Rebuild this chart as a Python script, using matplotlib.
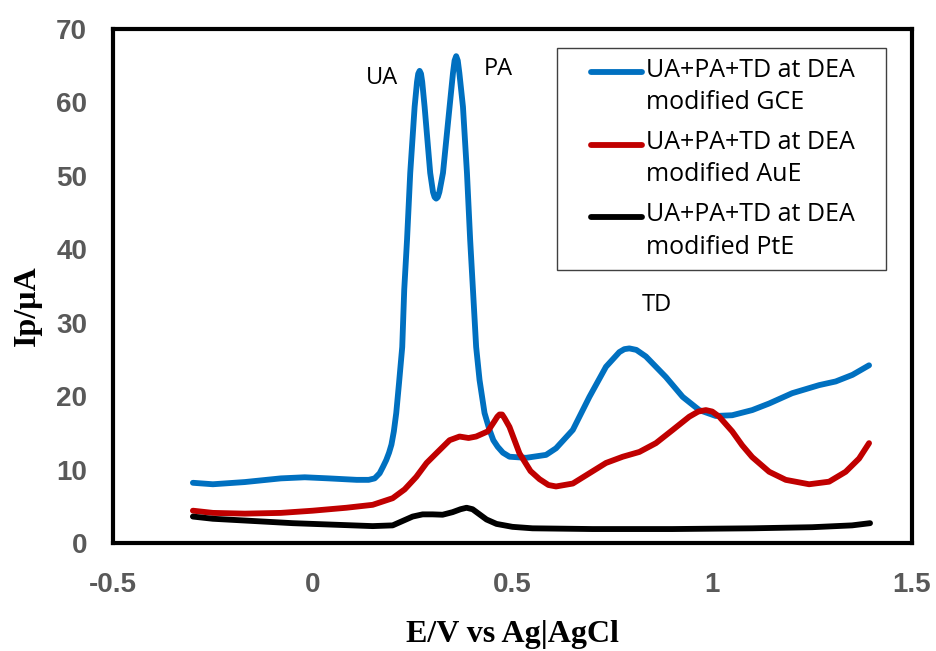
import numpy as np
import matplotlib
matplotlib.use("Agg")
import matplotlib.pyplot as plt
from matplotlib.legend_handler import HandlerLine2D

# Differential pulse voltammograms: potential (V vs Ag|AgCl) and peak current (µA)
gce_e = [-0.30, -0.25, -0.17, -0.08, -0.02, 0.04, 0.11, 0.14, 0.155, 0.1675,
         0.176, 0.184, 0.191, 0.197, 0.203, 0.209, 0.216, 0.224, 0.229, 0.236,
         0.244, 0.255, 0.261, 0.264, 0.2675, 0.271, 0.274, 0.28, 0.294, 0.301,
         0.305, 0.309, 0.313, 0.317, 0.326, 0.3425, 0.351, 0.355, 0.359, 0.363,
         0.367, 0.376, 0.386, 0.394, 0.401, 0.409, 0.4175, 0.43, 0.4425, 0.452,
         0.463, 0.476, 0.4925, 0.534, 0.584, 0.609, 0.651, 0.6925, 0.734, 0.7675,
         0.78, 0.7925, 0.81, 0.834, 0.884, 0.926, 0.9675, 1.009, 1.05, 1.10,
         1.1425, 1.20, 1.2675, 1.309, 1.351, 1.3925]
gce_i = [8.2, 8.0, 8.3, 8.8, 8.95, 8.8, 8.6, 8.6, 8.8, 9.5,
         10.4, 11.3, 12.3, 13.4, 15.2, 17.7, 21.8, 26.7, 34.5, 41.3,
         50.4, 59.4, 62.8, 63.9, 64.3, 63.9, 62.8, 59.4, 50.4, 47.8,
         47.1, 46.9, 47.1, 47.8, 50.4, 59.4, 64.0, 65.7, 66.3, 65.7,
         64.0, 59.4, 50.4, 41.3, 34.5, 26.7, 22.2, 17.7, 15.4, 14.0,
         13.1, 12.3, 11.75, 11.6, 12.0, 12.9, 15.4, 19.9, 24.0, 26.0,
         26.4, 26.5, 26.3, 25.4, 22.6, 19.9, 18.1, 17.3, 17.4, 18.1,
         19.0, 20.4, 21.5, 22.0, 22.9, 24.2]

aue_e = [-0.30, -0.25, -0.17, -0.08, 0.0, 0.084, 0.15, 0.20, 0.23, 0.259,
         0.285, 0.309, 0.3425, 0.3675, 0.39, 0.409, 0.438, 0.455, 0.462, 0.4675,
         0.474, 0.48, 0.4925, 0.5175, 0.545, 0.5675, 0.59, 0.609, 0.651, 0.6925,
         0.734, 0.776, 0.8175, 0.859, 0.901, 0.9425, 0.965, 0.984, 1.0, 1.0175,
         1.05, 1.075, 1.10, 1.1425, 1.184, 1.2425, 1.2925, 1.334, 1.3675, 1.3925]
aue_i = [4.4, 4.1, 4.0, 4.1, 4.4, 4.8, 5.2, 6.1, 7.3, 9.0,
         10.9, 12.2, 14.0, 14.5, 14.3, 14.5, 15.2, 16.6, 17.2, 17.5,
         17.5, 17.0, 15.8, 12.2, 9.8, 8.7, 7.9, 7.7, 8.1, 9.5,
         10.9, 11.75, 12.4, 13.6, 15.4, 17.2, 17.9, 18.1, 17.9, 17.2,
         15.2, 13.3, 11.7, 9.7, 8.6, 8.0, 8.35, 9.7, 11.5, 13.6]

pte_e = [-0.30, -0.25, -0.15, -0.05, 0.05, 0.15, 0.20, 0.225, 0.25, 0.275,
         0.30, 0.325, 0.35, 0.37, 0.385, 0.40, 0.41, 0.435, 0.46, 0.50,
         0.55, 0.70, 0.90, 1.10, 1.25, 1.35, 1.395]
pte_i = [3.6, 3.3, 3.0, 2.7, 2.5, 2.3, 2.4, 3.0, 3.6, 3.9,
         3.9, 3.85, 4.2, 4.6, 4.8, 4.6, 4.2, 3.2, 2.6, 2.2,
         2.0, 1.9, 1.9, 2.0, 2.15, 2.4, 2.7]

series_labels = ["UA+PA+TD at DEA\nmodified GCE",
                 "UA+PA+TD at DEA\nmodified AuE",
                 "UA+PA+TD at DEA\nmodified PtE"]
series_colors = ["#0070C0", "#C00000", "#000000"]

peak_names = ["UA", "PA", "TD"]
peak_e = [0.1725, 0.465, 0.8625]
peak_i = [63.3, 64.5, 32.4]

x_ticks = [-0.5, 0, 0.5, 1, 1.5]
x_tick_labels = ["-0.5", "0", "0.5", "1", "1.5"]
y_ticks = [0, 10, 20, 30, 40, 50, 60, 70]

SANS = ["Open Sans", "DejaVu Sans"]
TICK_FONT = ["Liberation Sans", "DejaVu Sans"]
SERIF = ["Liberation Serif", "DejaVu Serif"]


class FirstLineHandler(HandlerLine2D):
    """Legend line sitting beside the first line of a two-line label,
    drawn over the right part of the handle box."""

    def create_artists(self, legend, orig_handle, xdescent, ydescent,
                       width, height, fontsize, trans):
        arts = super().create_artists(legend, orig_handle, xdescent, ydescent,
                                      width, height, fontsize, trans)
        for a in arts:
            xd = np.asarray(a.get_xdata(), float)
            yd = np.asarray(a.get_ydata(), float)
            x0 = -xdescent + width - 2.05 * fontsize
            x1 = -xdescent + width
            a.set_xdata(np.linspace(x0, x1, len(xd)))
            a.set_ydata(yd + 0.6 * fontsize)
            a.set_solid_capstyle("round")
        return arts


fig = plt.figure(figsize=(9.37, 6.51), dpi=100)
ax = fig.add_axes([113 / 937, 108 / 651, 799 / 937, 514 / 651])

lines = []
for e, i, lab, col in zip([gce_e, aue_e, pte_e], [gce_i, aue_i, pte_i],
                          series_labels, series_colors):
    ln, = ax.plot(e, i, color=col, lw=4.2, label=lab,
                  solid_joinstyle="round", solid_capstyle="round")
    lines.append(ln)

ax.set_xlim(-0.5, 1.5)
ax.set_ylim(0, 70)
ax.set_xticks(x_ticks)
ax.set_xticklabels(x_tick_labels)
ax.set_yticks(y_ticks)

for sp in ax.spines.values():
    sp.set_linewidth(3.0)
    sp.set_color("black")

ax.tick_params(axis="both", length=0, labelsize=20, labelcolor="#595959")
ax.tick_params(axis="y", pad=18.7)
ax.tick_params(axis="x", pad=21.0)
for t in ax.get_xticklabels() + ax.get_yticklabels():
    t.set_fontweight("bold")
    t.set_family(TICK_FONT)

ax.set_xlabel("E/V vs Ag|AgCl", fontsize=23, fontweight="bold", family=SERIF)
ax.set_ylabel("Ip/µA", fontsize=23, fontweight="bold", family=SERIF)
ax.xaxis.set_label_coords(0.5, -0.1926)
ax.xaxis.label.set_verticalalignment("baseline")
ax.yaxis.set_label_coords(-0.089, 0.461)

for name, e, i in zip(peak_names, peak_e, peak_i):
    ax.text(e, i, name, fontsize=17, family=SANS, ha="center", va="center",
            color="black")

leg = ax.legend(handles=lines, loc="upper left",
                bbox_to_anchor=(0.5557, 0.5, 0.4118, 0.463), mode="expand",
                borderaxespad=0, fancybox=False, framealpha=1,
                edgecolor="#404040", prop={"family": SANS, "size": 18},
                handlelength=3.0, handletextpad=0.15, borderpad=0.4,
                labelspacing=0.6,
                handler_map={matplotlib.lines.Line2D: FirstLineHandler()})
leg.get_frame().set_linewidth(1.0)
for t in leg.get_texts():
    t.set_linespacing(1.38)

fig.savefig("out.png", dpi=100)
